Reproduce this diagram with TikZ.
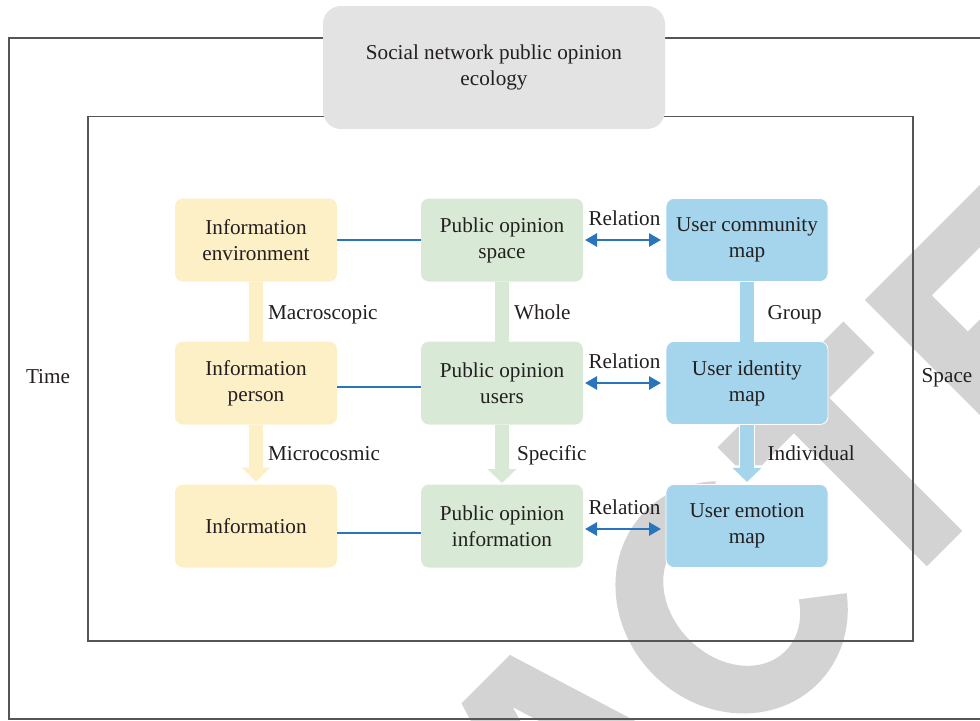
\documentclass[tikz,border=0pt]{standalone}
\usepackage{fontspec}
\setmainfont{Liberation Serif}
\usetikzlibrary{arrows.meta}

\definecolor{boxy}{RGB}{253,239,198}
\definecolor{boxg}{RGB}{216,234,213}
\definecolor{boxb}{RGB}{164,213,236}
\definecolor{titleg}{RGB}{227,227,227}
\definecolor{framec}{RGB}{85,85,85}
\definecolor{relb}{RGB}{40,117,190}
\definecolor{wmark}{RGB}{211,211,211}
\definecolor{txt}{RGB}{35,31,32}

\begin{document}
\begin{tikzpicture}[x=.5pt,y=-.5pt,
	every node/.style={font=\fontsize{10.6}{13}\selectfont, text=txt, outer sep=0pt},
	box/.style={minimum width=81pt, minimum height=41.5pt, rounded corners=4pt, inner sep=0pt, align=center},
	lab/.style={text height=1.5ex, text depth=.25ex},
	link/.style={relb, line width=.6pt},
	rel/.style={relb, line width=1.4pt, {Triangle[width=6.5pt,length=6pt]}-{Triangle[width=6.5pt,length=6pt]}},
	band/.style={line width=6.7pt},
	fat/.style={line width=6.7pt, -{Triangle[width=14pt,length=7pt]}},
	frame/.style={framec, line width=.75pt}]
		\useasboundingbox (0,0) rectangle (980,720);
		\clip (0,0) rectangle (980,720);
		% stamp behind the figure
		\begin{scope}[x=.5pt, y=.5pt, shift={(373.25pt,-373.25pt)}, rotate=45]
			\fill[wmark, even odd rule] (-243,0) -- (-171,232) -- (-102.5,232) -- (-30.6,0) -- (-77.6,0) -- (-91.5,45) -- (-183.3,45) -- (-197.2,0) -- cycle
				(-137.4,193) -- (-105.5,90) -- (-169.3,90) -- cycle;
			\fill[wmark] (165.7,209.5) arc[start angle=50, end angle=320, x radius=55pt, y radius=61pt] -- (141,67.1) arc[start angle=320, end angle=50, x radius=30pt, y radius=38pt] -- cycle;
			\fill[wmark] (191,188) rectangle (369,232) (255,0) rectangle (305,188);
			\fill[wmark] (399.5,0) rectangle (450,232) (450,188) rectangle (575,232) (450,97) rectangle (560,137) (450,0) rectangle (580,44);
		\end{scope}
		\draw[frame] (9,38) rectangle (1000,719);
		\draw[frame] (88,116.7) rectangle (913,641);
		\node[fill=titleg, rounded corners=9pt, minimum width=171pt, minimum height=61.5pt, align=center] (title) at (494,67.5) {Social network public opinion\\ecology};
		\node (time) at (48,377) {Time};
		\node (space) at (947,378) {Space};
		\node[box, fill=boxy] (ie) at (256,240) {Information\\environment};
		\node[box, fill=boxy] (ip) at (256,383) {Information\\person};
		\node[box, fill=boxy] (inf) at (256,526) {Information};
		\node[box, fill=boxg] (ps) at (502,240) {Public opinion\\space};
		\node[box, fill=boxg] (pu) at (502,383) {Public opinion\\users};
		\node[box, fill=boxg] (pi) at (502,526) {Public opinion\\information};
		\node[box, fill=boxb, draw=white] (uc) at (747,240) {User community\\map};
		\node[box, fill=boxb, draw=white] (ui) at (747,383) {User identity\\map};
		\node[box, fill=boxb, draw=white] (ue) at (747,526) {User emotion\\map};
		% rows
		\draw[link] (ie) -- (ps);
		\draw[link] ([yshift=-2pt]ip.east) -- ([yshift=-2pt]pu.west);
		\draw[link] ([yshift=-3.5pt]inf.east) -- ([yshift=-3.5pt]pi.west);
		\draw[rel, shorten <=1pt, shorten >=2.5pt] (ps) -- (uc) node[midway, above=3.7pt] {Relation};
		\draw[rel, shorten <=1pt, shorten >=2.5pt] (pu) -- (ui) node[midway, above=3.7pt] {Relation};
		\draw[rel, shorten <=1pt, shorten >=2.5pt] ([yshift=-1.5pt]pi.east) -- ([yshift=-1.5pt]ue.west) node[midway, above=3.7pt] {Relation};
		% columns
		\draw[band, boxy] (ie) -- (ip) node[lab, midway, right=2.7pt, yshift=-1pt] {Macroscopic};
		\draw[fat, boxy, shorten >=1.5pt] (ip) -- (inf) node[lab, midway, right=2.7pt] {Microcosmic};
		\draw[band, boxg] (ps) -- (pu) node[lab, midway, right=2.7pt, yshift=-1pt] {Whole};
		\draw[fat, boxg, shorten >=.7pt] (pu) -- (pi) node[lab, midway, right=4.2pt] {Specific};
		\draw[band, boxb] (uc) -- (ui) node[lab, midway, right=7pt, yshift=-1pt] {Group};
		\draw[fat, boxb, shorten >=1.3pt, preaction={draw=white, line width=8pt, -{Triangle[width=16.5pt,length=8.3pt]}}] (ui) -- (ue) node[lab, midway, right=7pt] {Individual};
	\end{tikzpicture}
\end{document}
